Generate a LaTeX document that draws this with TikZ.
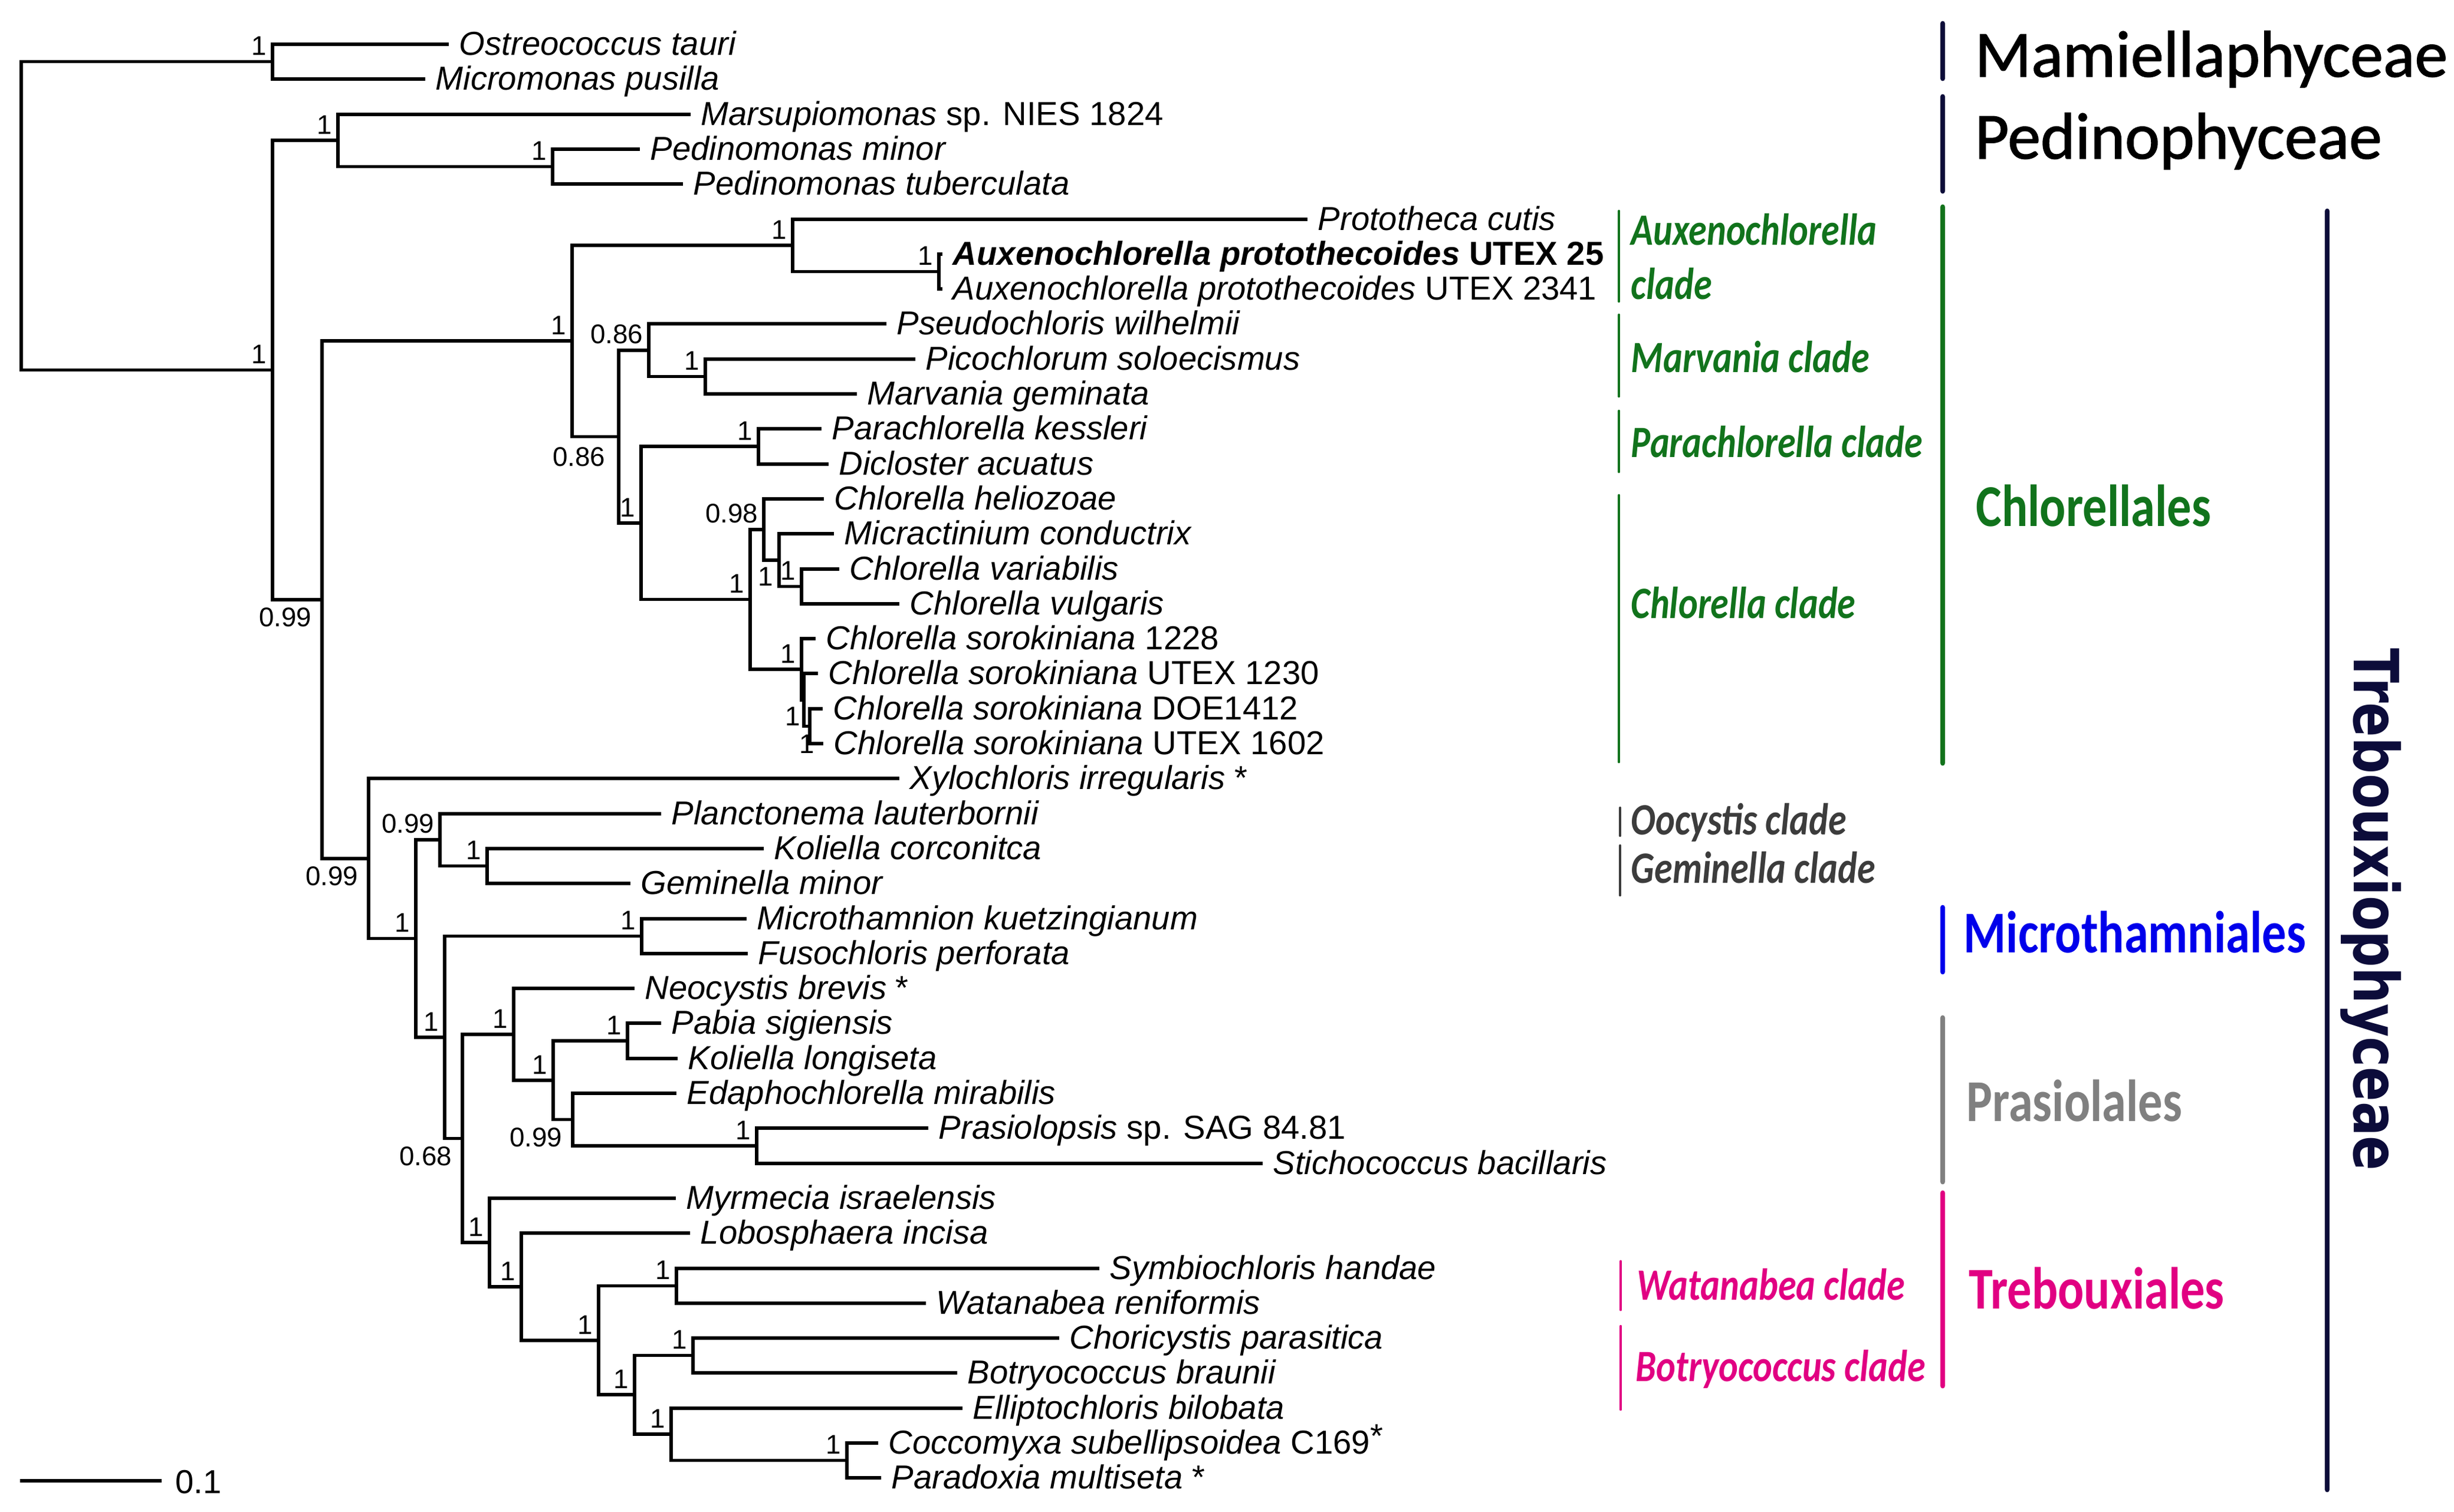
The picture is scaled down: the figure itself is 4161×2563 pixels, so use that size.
\documentclass[tikz,border=0pt]{standalone}
\usepackage{fontspec}
\setmainfont{Liberation Sans}
\newfontfamily\calib[FakeBold=1.3]{Carlito}
\newfontfamily\calibc[FakeStretch=0.82]{Carlito}
\newfontfamily\dejac[FakeStretch=0.82]{DejaVu Sans}
\definecolor{navy}{RGB}{12,12,58}
\definecolor{cgreen}{RGB}{17,115,28}
\definecolor{cblue}{RGB}{0,0,235}
\definecolor{cgray}{RGB}{128,128,128}
\definecolor{cdgray}{RGB}{60,60,60}
\definecolor{cpink}{RGB}{225,0,130}
\newcommand\mytip[4]{\coordinate (#1) at (#2,#3); \node[taxon] (#1l) at (#1) {#4};}
\newcommand\inode[3]{\coordinate (#1) at (#2,#3);}
\newcommand\kids[3]{\draw[br] (#1) |- (#2) (#1) |- (#3);}
\newcommand\sva[2]{\node[supa] (#1-sv) at (#1) {#2};}
\newcommand\svb[2]{\node[supb] (#1-sv) at (#1) {#2};}
\begin{document}
\begin{tikzpicture}[x=0.01cm,y=-0.01cm,
  br/.style={line width=1.45pt},
  taxon/.style={anchor=base west,inner sep=0pt,xshift=0.17cm,yshift=-0.18cm,font=\fontsize{16}{19}\selectfont},
  supa/.style={anchor=south east,inner sep=0pt,xshift=-0.09cm,yshift=0.1cm,font=\fontsize{13}{15}\selectfont},
  supb/.style={anchor=north east,inner sep=0pt,xshift=-0.17cm,yshift=-0.13cm,font=\fontsize{13}{15}\selectfont},
  supc/.style={anchor=south east,inner sep=0pt,font=\fontsize{13}{15}\selectfont},
  thin/.style={line width=1.3pt,line cap=round},
  thick/.style={line width=2.5pt,line cap=round},
  clade/.style={anchor=base west,inner sep=0pt,font=\calibc\bfseries\itshape\fontsize{21.6}{24}\selectfont},
  order/.style={anchor=base west,inner sep=0pt,font=\calibc\bfseries\fontsize{28.6}{32}\selectfont},
  klass/.style={anchor=base west,inner sep=0pt,font=\calib\fontsize{31.8}{36}\selectfont}]
\useasboundingbox (0,0) rectangle (4161,2563);
% ---------- tips ----------
\mytip{t1}{761}{75}{\textit{Ostreococcus tauri}}
\mytip{t2}{721}{134}{\textit{Micromonas pusilla}}
\mytip{t3}{1171}{194}{\textit{Marsupiomonas} sp. NIES 1824}
\mytip{t4}{1085}{253}{\textit{Pedinomonas minor}}
\mytip{t5}{1158}{312}{\textit{Pedinomonas tuberculata}}
\mytip{t6}{2217}{372}{\textit{Prototheca cutis}}
\mytip{t7}{1598}{431}{\textbf{\textit{Auxenochlorella protothecoides} UTEX 25}}
\mytip{t8}{1598}{490}{\textit{Auxenochlorella protothecoides} UTEX 2341}
\mytip{t9}{1503}{549}{\textit{Pseudochloris wilhelmii}}
\mytip{t10}{1552}{609}{\textit{Picochlorum soloecismus}}
\mytip{t11}{1453}{668}{\textit{Marvania geminata}}
\mytip{t12}{1393}{727}{\textit{Parachlorella kessleri}}
\mytip{t13}{1405}{787}{\textit{Dicloster acuatus}}
\mytip{t14}{1397}{846}{\textit{Chlorella heliozoae}}
\mytip{t15}{1414}{905}{\textit{Micractinium conductrix}}
\mytip{t16}{1423}{965}{\textit{Chlorella variabilis}}
\mytip{t17}{1525}{1024}{\textit{Chlorella vulgaris}}
\mytip{t18}{1383}{1083}{\textit{Chlorella sorokiniana} 1228}
\mytip{t19}{1387}{1142}{\textit{Chlorella sorokiniana} UTEX 1230}
\mytip{t20}{1395}{1202}{\textit{Chlorella sorokiniana} DOE1412}
\mytip{t21}{1396}{1261}{\textit{Chlorella sorokiniana} UTEX 1602}
\mytip{t22}{1525}{1320}{\textit{Xylochloris irregularis} *}
\mytip{t23}{1121}{1380}{\textit{Planctonema lauterbornii}}
\mytip{t24}{1295}{1439}{\textit{Koliella corconitca}}
\mytip{t25}{1069}{1498}{\textit{Geminella minor}}
\mytip{t26}{1266}{1558}{\textit{Microthamnion kuetzingianum}}
\mytip{t27}{1268}{1617}{\textit{Fusochloris perforata}}
\mytip{t28}{1076}{1676}{\textit{Neocystis brevis} *}
\mytip{t29}{1121}{1735}{\textit{Pabia sigiensis}}
\mytip{t30}{1149}{1795}{\textit{Koliella longiseta}}
\mytip{t31}{1147}{1854}{\textit{Edaphochlorella mirabilis}}
\mytip{t32}{1574}{1913}{\textit{Prasiolopsis} sp. SAG 84.81}
\mytip{t33}{2141}{1973}{\textit{Stichococcus bacillaris}}
\mytip{t34}{1146}{2032}{\textit{Myrmecia israelensis}}
\mytip{t35}{1170}{2091}{\textit{Lobosphaera incisa}}
\mytip{t36}{1864}{2151}{\textit{Symbiochloris handae}}
\mytip{t37}{1570}{2210}{\textit{Watanabea reniformis}}
\mytip{t38}{1796}{2269}{\textit{Choricystis parasitica}}
\mytip{t39}{1623}{2328}{\textit{Botryococcus braunii}}
\mytip{t40}{1632}{2388}{\textit{Elliptochloris bilobata}}
\mytip{t41}{1489}{2447}{\textit{Coccomyxa subellipsoidea} C169\raisebox{0.35ex}{*}}
\mytip{t42}{1494}{2506}{\textit{Paradoxia multiseta} *}
% ---------- internal nodes ----------
\inode{nroot}{36}{366}
\inode{nmam}{462}{104.5}
\inode{nA}{462}{627.5}
\inode{nped}{573}{238}
\inode{npsub}{937}{282.5}
\inode{nB}{546}{1017}
\inode{nD}{970}{578}
\inode{nE}{1344}{416}
\inode{nF}{1592}{460.5}
\inode{nG}{1049}{740.5}
\inode{nH}{1100}{594}
\inode{nI}{1196}{638.5}
\inode{nJ}{1087}{887}
\inode{nK}{1286}{757}
\inode{nL}{1272}{1016.5}
\inode{nM}{1295}{898}
\inode{nN}{1321}{950}
\inode{nO}{1359}{994.5}
\inode{nP}{1359}{1135}
\inode{nQ}{1363}{1187}
\inode{nR}{1373}{1231.5}
\inode{nC}{625}{1456}
\inode{nS0}{705}{1591.5}
\inode{nS}{746}{1424}
\inode{nT}{826}{1468.5}
\inode{nU}{754}{1759}
\inode{nV}{1088}{1587.5}
\inode{nW}{784}{1930.5}
\inode{nX}{871}{1754}
\inode{nY}{938}{1832}
\inode{nZ}{1064}{1765}
\inode{nAA}{971}{1898.5}
\inode{nAB}{1283}{1943}
\inode{nAC}{830}{2107}
\inode{nAD}{884}{2182}
\inode{nAE}{1015}{2273}
\inode{nAF}{1147}{2180.5}
\inode{nAG}{1076}{2365}
\inode{nAH}{1175}{2298.5}
\inode{nAI}{1138}{2432}
\inode{nAJ}{1436}{2476.5}
% ---------- branches ----------
\kids{nroot}{nmam}{nA}
\kids{nmam}{t1}{t2}
\kids{nA}{nped}{nB}
\kids{nped}{t3}{npsub}
\kids{npsub}{t4}{t5}
\kids{nB}{nD}{nC}
\kids{nD}{nE}{nG}
\kids{nE}{t6}{nF}
\kids{nF}{t7}{t8}
\kids{nG}{nH}{nJ}
\kids{nH}{t9}{nI}
\kids{nI}{t10}{t11}
\kids{nJ}{nK}{nL}
\kids{nK}{t12}{t13}
\kids{nL}{nM}{nP}
\kids{nM}{t14}{nN}
\kids{nN}{t15}{nO}
\kids{nO}{t16}{t17}
\kids{nP}{t18}{nQ}
\kids{nQ}{t19}{nR}
\kids{nR}{t20}{t21}
\kids{nC}{t22}{nS0}
\kids{nS0}{nS}{nU}
\kids{nS}{t23}{nT}
\kids{nT}{t24}{t25}
\kids{nU}{nV}{nW}
\kids{nV}{t26}{t27}
\kids{nW}{nX}{nAC}
\kids{nX}{t28}{nY}
\kids{nY}{nZ}{nAA}
\kids{nZ}{t29}{t30}
\kids{nAA}{t31}{nAB}
\kids{nAB}{t32}{t33}
\kids{nAC}{t34}{nAD}
\kids{nAD}{t35}{nAE}
\kids{nAE}{nAF}{nAG}
\kids{nAF}{t36}{t37}
\kids{nAG}{nAH}{nAI}
\kids{nAH}{t38}{t39}
\kids{nAI}{t40}{nAJ}
\kids{nAJ}{t41}{t42}
% ---------- support values ----------
\sva{nmam}{1}
\sva{nA}{1}
\sva{nped}{1}
\sva{npsub}{1}
\svb{nB}{0.99}
\sva{nD}{1}
\sva{nE}{1}
\sva{nF}{1}
\node[supb,xshift=-0.05cm,yshift=-0.04cm] (nG-sv) at (nG) {0.86};
\sva{nH}{0.86}
\sva{nI}{1}
\sva{nJ}{1}
\sva{nK}{1}
\sva{nL}{1}
\sva{nM}{0.98}
\node[supc] (nN-sv) at (1312,994) {1};
\sva{nO}{1}
\sva{nP}{1}
\node[supc] (nQ-sv) at (1358,1231) {1};
\node[supc] (nR-sv) at (1382,1278) {1};
\svb{nC}{0.99}
\sva{nS0}{1}
\sva{nS}{0.99}
\sva{nT}{1}
\sva{nU}{1}
\sva{nV}{1}
\svb{nW}{0.68}
\sva{nX}{1}
\sva{nY}{1}
\sva{nZ}{1}
\svb{nAA}{0.99}
\sva{nAB}{1}
\sva{nAC}{1}
\sva{nAD}{1}
\sva{nAE}{1}
\sva{nAF}{1}
\sva{nAG}{1}
\sva{nAH}{1}
\sva{nAI}{1}
\sva{nAJ}{1}
% ---------- scale bar ----------
\coordinate (sb1) at (34,2511);
\coordinate (sb2) at (274,2511);
\draw[br] (sb1) -- (sb2);
\node[anchor=base west,inner sep=0pt,font=\fontsize{16}{19}\selectfont] (sbl) at (297,2532) {0.1};
% ---------- clade bars ----------
\draw[thin,cgreen] (2745,358) -- (2745,511);
\draw[thin,cgreen] (2745,534) -- (2745,672);
\draw[thin,cgreen] (2745,697) -- (2745,800);
\draw[thin,cgreen] (2745,840) -- (2745,1292);
\draw[thin,cdgray] (2747,1370) -- (2747,1417);
\draw[thin,cdgray] (2747,1434) -- (2747,1518);
\draw[thin,cpink] (2748,2139) -- (2748,2221);
\draw[thin,cpink] (2748,2249) -- (2748,2390);
\node[clade,cgreen] (la1) at (2765,415) {Auxenochlorella};
\node[clade,cgreen] (la2) at (2765,507) {clade};
\node[clade,cgreen] (lmar) at (2765,631) {Marvania clade};
\node[clade,cgreen] (lpar) at (2765,775) {Parachlorella clade};
\node[clade,cgreen] (lchl) at (2765,1048) {Chlorella clade};
\node[clade,cdgray] (looc) at (2765,1415) {Oocystis clade};
\node[clade,cdgray] (lgem) at (2765,1497) {Geminella clade};
\node[clade,cpink] (lwat) at (2775,2204) {Watanabea clade};
\node[clade,cpink] (lbot) at (2773,2342) {Botryococcus clade};
% ---------- order bars ----------
\draw[thick,navy] (3294,40) -- (3294,133);
\draw[thick,navy] (3294,164) -- (3294,324);
\draw[thick,cgreen] (3294,351) -- (3294,1294);
\draw[thick,cblue] (3294,1539) -- (3294,1648);
\draw[thick,cgray] (3294,1726) -- (3294,2004);
\draw[thick,cpink] (3294,2023) -- (3294,2350);
\draw[thick,navy] (3946,358) -- (3946,2526);
\node[klass] (lmam) at (3348,130) {Mamiellaphyceae};
\node[klass] (lpedc) at (3348,269) {Pedinophyceae};
\node[order,cgreen] (lchlo) at (3350,892) {Chlorellales};
\node[order,cblue] (lmic) at (3329,1615) {Microthamniales};
\node[order,cgray] (lpra) at (3334,1901) {Prasiolales};
\node[order,cpink] (ltre) at (3338,2219) {Trebouxiales};
\node[anchor=base west,inner sep=0pt,rotate=-90,navy,font=\dejac\bfseries\fontsize{30}{34}\selectfont] (ltrx) at (3991,1099) {Trebouxiophyceae};
\end{tikzpicture}
\end{document}
